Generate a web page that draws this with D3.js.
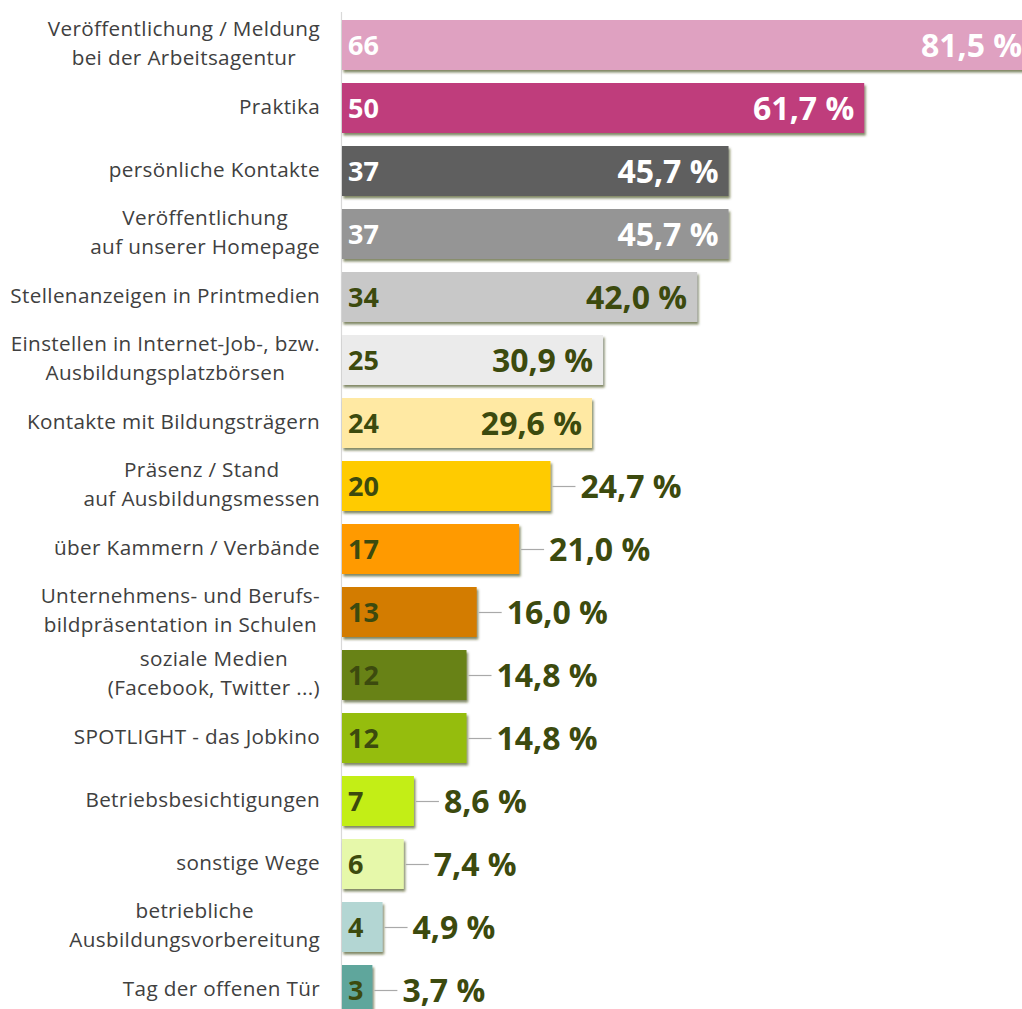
<!DOCTYPE html>
<html>
<head>
<meta charset="utf-8">
<script src="https://cdn.jsdelivr.net/npm/d3@7"></script>
<style>
  html, body { margin: 0; padding: 0; background: #ffffff; overflow: hidden; }
  svg { display: block; }
</style>
</head>
<body>
<svg id="chart" width="1022" height="1009"></svg>
<script>
// Recruiting channels: category labels (lines), absolute counts and shares in percent
const categories = [
  ["Veröffentlichung / Meldung", "bei der Arbeitsagentur"],
  ["Praktika"],
  ["persönliche Kontakte"],
  ["Veröffentlichung", "auf unserer Homepage"],
  ["Stellenanzeigen in Printmedien"],
  ["Einstellen in Internet-Job-, bzw.", "Ausbildungsplatzbörsen"],
  ["Kontakte mit Bildungsträgern"],
  ["Präsenz / Stand", "auf Ausbildungsmessen"],
  ["über Kammern / Verbände"],
  ["Unternehmens- und Berufs-", "bildpräsentation in Schulen"],
  ["soziale Medien", "(Facebook, Twitter ...)"],
  ["SPOTLIGHT - das Jobkino"],
  ["Betriebsbesichtigungen"],
  ["sonstige Wege"],
  ["betriebliche", "Ausbildungsvorbereitung"],
  ["Tag der offenen Tür"]
];
const counts = [66, 50, 37, 37, 34, 25, 24, 20, 17, 13, 12, 12, 7, 6, 4, 3];
const percents = [81.5, 61.7, 45.7, 45.7, 42.0, 30.9, 29.6, 24.7, 21.0, 16.0, 14.8, 14.8, 8.6, 7.4, 4.9, 3.7];
const barColors = [
  "#dfa1c1", "#bf3e7b", "#5f5f5f", "#959595", "#c8c8c8", "#ebebeb",
  "#ffe9a3", "#ffcb00", "#ff9a00", "#d37c00", "#688212", "#95bd0c",
  "#c3ee17", "#e6f8aa", "#b3d6d3", "#5ea69c"
];

const svg = d3.select("#chart");
const ids = d3.range(categories.length);

const x = d3.scaleLinear().domain([0, 100]).range([341, 1189]);
const y = d3.scaleBand().domain(ids).range([20, 1015]).paddingInner(13 / 63).paddingOuter(0);

const labelColor = "#404040";
const darkText = "#3c4a0e";
const lightBars = new Set([0, 1, 2, 3]);
const insideShare = d => percents[d] >= 29;

// soft drop shadow under each bar
const defs = svg.append("defs");
const f = defs.append("filter").attr("id", "shadow")
  .attr("x", "-5%").attr("y", "-20%").attr("width", "115%").attr("height", "150%");
f.append("feDropShadow").attr("dx", 1.5).attr("dy", 2.5).attr("stdDeviation", 1.3)
  .attr("flood-color", "#3f4a18").attr("flood-opacity", 0.65);

// vertical category axis line
svg.append("line")
  .attr("x1", x(0) + 0.5).attr("x2", x(0) + 0.5)
  .attr("y1", 12).attr("y2", 1009)
  .attr("stroke", "#d9d9d9").attr("stroke-width", 1.2);

// bars
svg.append("g").selectAll("rect").data(ids).join("rect")
  .attr("x", x(0) + 1)
  .attr("y", d => y(d))
  .attr("width", d => x(percents[d]) - x(0) - 1)
  .attr("height", y.bandwidth())
  .attr("fill", d => barColors[d])
  .attr("filter", "url(#shadow)");

// category labels, each block centred per line and right-aligned as a whole
const labelRight = 320;
const lineGap = 29;
const lg = svg.append("g")
  .attr("font-family", "'Open Sans', sans-serif")
  .attr("font-size", 20.7)
  .attr("letter-spacing", 0.35)
  .attr("fill", labelColor);
ids.forEach(i => {
  const lines = categories[i];
  const cy = y(i) + y.bandwidth() / 2 + 5.5;
  const first = cy - (lines.length - 1) * lineGap / 2;
  const texts = lines.map((t, k) => lg.append("text")
    .attr("y", first + k * lineGap)
    .attr("text-anchor", "middle")
    .text(t));
  const w = d3.max(texts, t => t.node().getComputedTextLength());
  texts.forEach(t => t.attr("x", labelRight - w / 2));
});

// counts at the start of each bar
svg.append("g").selectAll("text").data(ids).join("text")
  .attr("x", x(0) + 7)
  .attr("y", d => y(d) + y.bandwidth() / 2 + 9.5)
  .attr("font-family", "'Open Sans', sans-serif")
  .attr("font-weight", 700)
  .attr("font-size", 27)
  .attr("fill", d => lightBars.has(d) ? "#ffffff" : darkText)
  .text(d => counts[d]);

const fmt = v => v.toFixed(1).replace(".", ",") + " %";

// leader lines for shares placed beside short bars
svg.append("g").selectAll("line").data(ids.filter(d => !insideShare(d))).join("line")
  .attr("x1", d => x(percents[d]) + 2)
  .attr("x2", d => x(percents[d]) + 25)
  .attr("y1", d => y(d) + y.bandwidth() / 2 + 0.5)
  .attr("y2", d => y(d) + y.bandwidth() / 2 + 0.5)
  .attr("stroke", "#a9a9a9").attr("stroke-width", 1.2);

// share labels
svg.append("g").selectAll("text").data(ids).join("text")
  .attr("x", d => insideShare(d) ? x(percents[d]) - 10 : x(percents[d]) + 30)
  .attr("y", d => y(d) + y.bandwidth() / 2 + 11.5)
  .attr("text-anchor", d => insideShare(d) ? "end" : "start")
  .attr("font-family", "'Open Sans', sans-serif")
  .attr("font-weight", 700)
  .attr("font-size", 32)
  .attr("fill", d => lightBars.has(d) ? "#ffffff" : darkText)
  .text(d => fmt(percents[d]));
</script>
</body>
</html>
